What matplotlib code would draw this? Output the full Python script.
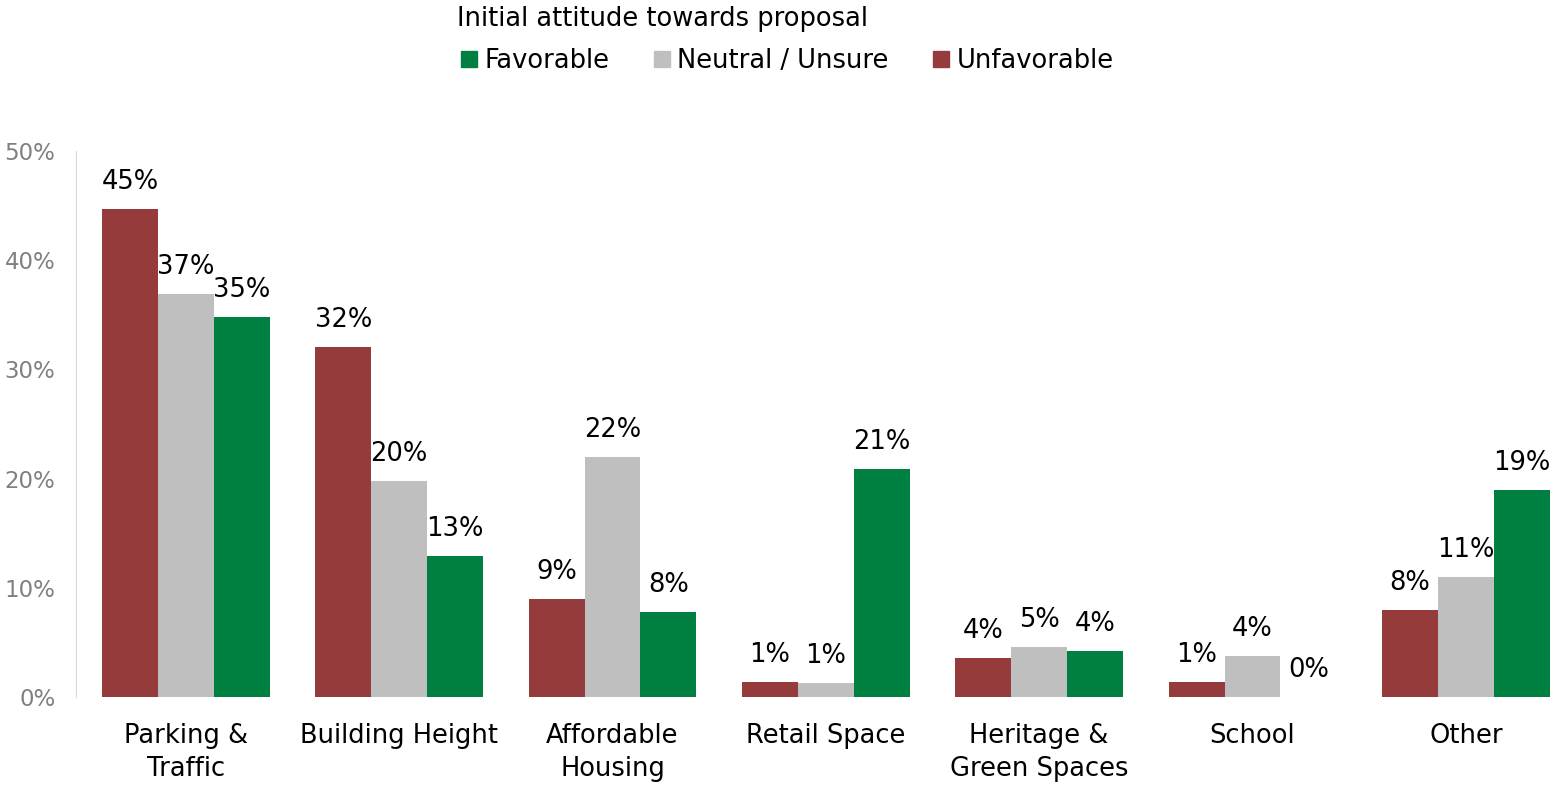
import numpy as np
import matplotlib.pyplot as plt
from matplotlib.lines import Line2D

plt.rcParams['font.family'] = ['DejaVu Sans']

categories = ['Parking &\nTraffic', 'Building Height', 'Affordable\nHousing',
              'Retail Space', 'Heritage &\nGreen Spaces', 'School', 'Other']
unfavorable = [44.7, 32.1, 9.0, 1.4, 3.6, 1.4, 8.0]
neutral = [36.9, 19.8, 22.0, 1.3, 4.6, 3.8, 11.0]
favorable = [34.8, 12.9, 7.8, 20.9, 4.2, 0.0, 19.0]

c_unfav = '#953B3B'
c_neut = '#BFBFBF'
c_fav = '#008040'

fig = plt.figure(figsize=(15.54, 7.85), dpi=100)
ax = fig.add_axes([0.049, 0.112, 0.9485, 0.6956])

x = np.arange(len(categories))
w = 0.262
series = [(unfavorable, c_unfav, -w), (neutral, c_neut, 0), (favorable, c_fav, w)]
for vals, col, off in series:
    bars = ax.bar(x + off, vals, width=w, color=col, edgecolor='none')
    for b, v in zip(bars, vals):
        ax.annotate('%d%%' % round(v), (b.get_x() + b.get_width() / 2, v),
                    xytext=(0, 10), textcoords='offset points',
                    ha='center', va='bottom', fontsize=18.5)

ax.set_xlim(-0.514, 6.395)
ax.set_ylim(0, 50)
ax.set_yticks(np.arange(0, 51, 10))
ax.set_yticklabels(['%d%%' % t for t in range(0, 51, 10)], color='#808080', fontsize=16.5)
ax.set_xticks(x)
ax.set_xticklabels(categories, fontsize=18.5, linespacing=1.35)
ax.tick_params(axis='both', length=0)
ax.tick_params(axis='x', pad=19)
ax.tick_params(axis='y', pad=15)
for s in ['top', 'right', 'bottom']:
    ax.spines[s].set_visible(False)
ax.spines['left'].set_color('#D9D9D9')

handles = [Line2D([], [], marker='s', ls='none', markersize=11, color=c)
           for c in (c_fav, c_neut, c_unfav)]
leg = fig.legend(handles, ['Favorable', 'Neutral / Unsure', 'Unfavorable'],
                 title='Initial attitude towards proposal', ncol=3,
                 loc='upper left', bbox_to_anchor=(0.281, 1.018), frameon=False,
                 fontsize=18.5, title_fontsize=18.5, alignment='left',
                 handlelength=0.9, handletextpad=0.15, columnspacing=1.6,
                 borderpad=0.3, labelspacing=0.62)

fig.savefig('out.png')
